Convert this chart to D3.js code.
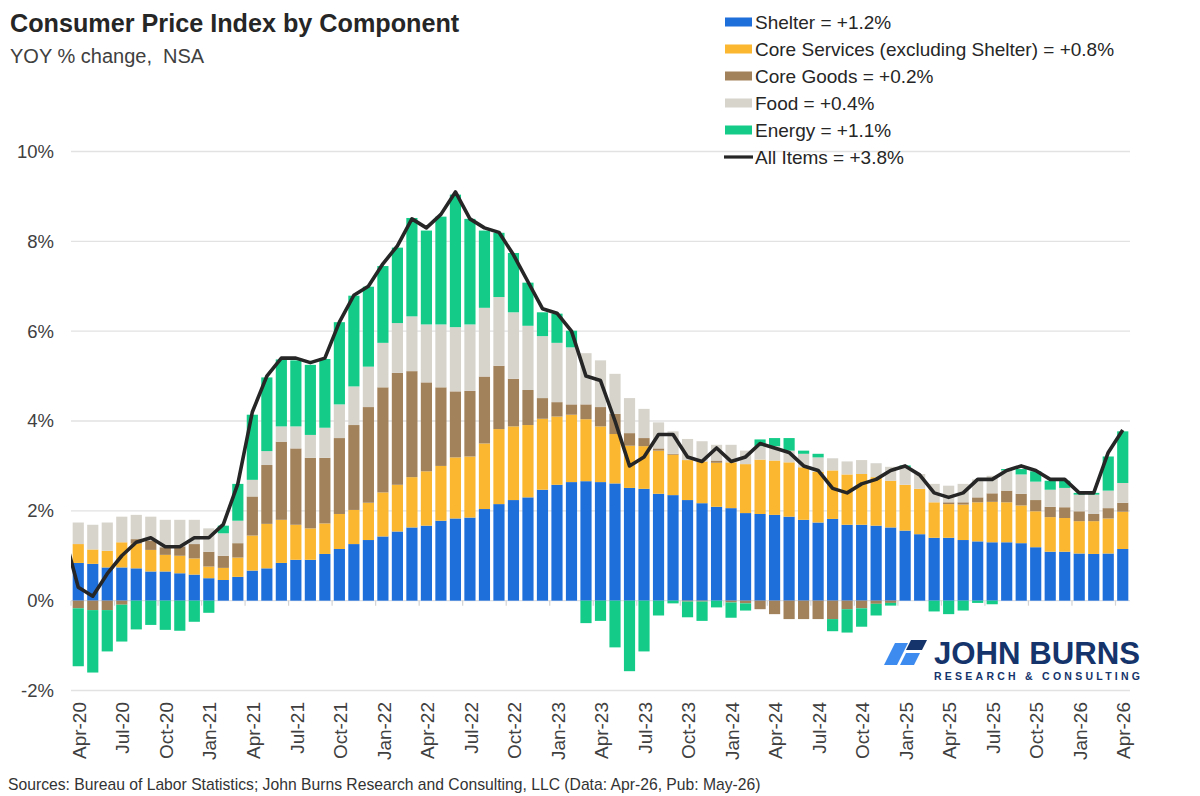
<!DOCTYPE html>
<html>
<head>
<meta charset="utf-8">
<title>Consumer Price Index by Component</title>
<script src="https://cdn.jsdelivr.net/npm/d3@7"></script>
<style>
    html, body { margin: 0; padding: 0; background: #fff; }
    svg text { font-family: "Liberation Sans", Arial, sans-serif; }
</style>
</head>
<body>
<div id="chart"></div>
<script>
    // months Apr-20 .. Apr-26 (73 bars)
    var months = d3.timeMonths(new Date(2020, 3, 1), new Date(2026, 4, 1));
    var fmtMonth = d3.timeFormat("%b-%y");

    // contributions to YOY CPI, percentage points
    var shelter = [0.84,0.82,0.74,0.74,0.72,0.65,0.65,0.61,0.58,0.50,0.46,0.53,
        0.67,0.72,0.84,0.91,0.91,1.04,1.15,1.26,1.35,1.43,1.54,1.63,
        1.67,1.78,1.83,1.85,2.04,2.15,2.24,2.30,2.47,2.58,2.64,2.66,
        2.64,2.61,2.51,2.49,2.38,2.35,2.24,2.17,2.09,2.06,1.95,1.93,
        1.91,1.87,1.80,1.74,1.82,1.69,1.69,1.67,1.63,1.56,1.48,1.40,
        1.40,1.35,1.32,1.30,1.30,1.28,1.19,1.09,1.09,1.05,1.04,1.05,1.15];
    var coreServices = [0.42,0.32,0.37,0.56,0.55,0.48,0.37,0.39,0.36,0.26,0.27,0.43,
        0.78,0.99,0.96,0.78,0.70,0.68,0.78,0.76,0.83,0.98,1.04,1.12,
        1.21,1.22,1.36,1.36,1.46,1.67,1.64,1.61,1.58,1.52,1.50,1.38,
        1.24,1.10,0.94,0.95,0.96,0.90,0.89,0.93,0.98,1.02,1.09,1.21,
        1.21,1.21,1.17,1.13,1.08,1.12,1.13,1.08,1.04,1.02,1.01,0.79,
        0.75,0.79,0.87,0.90,0.89,0.84,0.80,0.77,0.75,0.72,0.73,0.78,0.83];
    var coreGoods = [-0.17,-0.21,-0.21,-0.09,0.10,0.21,0.17,0.21,0.32,0.33,0.27,0.32,
        0.87,1.31,1.74,1.70,1.57,1.46,1.69,1.89,2.13,2.34,2.49,2.36,
        1.98,1.75,1.47,1.46,1.49,1.41,1.06,0.78,0.46,0.32,0.23,0.33,
        0.43,0.45,0.28,0.18,0.05,0.02,-0.02,-0.02,0.05,-0.04,-0.06,-0.19,
        -0.30,-0.41,-0.41,-0.41,-0.41,-0.19,-0.17,-0.07,-0.05,0.00,0.00,0.00,
        0.04,0.05,0.11,0.19,0.26,0.26,0.25,0.23,0.24,0.22,0.16,0.23,0.20];
    var food = [0.48,0.55,0.63,0.57,0.54,0.53,0.61,0.59,0.54,0.52,0.50,0.50,
        0.37,0.31,0.34,0.49,0.51,0.67,0.75,0.86,0.90,0.99,1.11,1.22,
        1.29,1.40,1.43,1.48,1.53,1.53,1.48,1.43,1.38,1.32,1.27,1.14,
        1.04,0.89,0.78,0.65,0.58,0.50,0.47,0.45,0.35,0.39,0.30,0.30,
        0.32,0.26,0.30,0.32,0.27,0.29,0.31,0.31,0.31,0.39,0.33,0.41,
        0.37,0.41,0.40,0.39,0.45,0.43,0.41,0.38,0.43,0.37,0.43,0.39,0.44];
    var energy = [-1.29,-1.39,-0.92,-0.82,-0.64,-0.54,-0.65,-0.67,-0.47,-0.27,0.17,0.82,
        1.45,1.64,1.49,1.47,1.56,1.53,1.83,2.02,1.78,1.71,1.68,2.19,
        2.09,2.40,2.95,2.35,1.72,1.43,1.32,0.96,0.53,0.65,0.37,-0.50,
        -0.45,-1.04,-1.57,-1.13,-0.33,-0.06,-0.35,-0.43,-0.15,-0.34,-0.16,0.15,
        0.18,0.28,0.07,0.08,-0.27,-0.52,-0.41,-0.26,-0.06,0.04,0.00,-0.24,
        -0.30,-0.22,-0.05,-0.08,0.03,0.12,0.23,0.20,0.16,0.04,0.04,0.76,1.15];
    // All Items YOY %, starts one month early (Mar-20) so the line enters from the left edge
    var allItems = [1.5,
        0.3,0.1,0.6,1.0,1.3,1.4,1.2,1.2,1.4,1.4,1.7,2.6,
        4.2,5.0,5.4,5.4,5.3,5.4,6.2,6.8,7.0,7.5,7.9,8.5,
        8.3,8.6,9.1,8.5,8.3,8.2,7.7,7.1,6.5,6.4,6.0,5.0,
        4.9,4.0,3.0,3.2,3.7,3.7,3.2,3.1,3.4,3.1,3.2,3.5,
        3.4,3.3,3.0,2.9,2.5,2.4,2.6,2.7,2.9,3.0,2.8,2.4,
        2.3,2.4,2.7,2.7,2.9,3.0,2.9,2.7,2.7,2.4,2.4,3.3,3.8];

    var yTicks = [-2, 0, 2, 4, 6, 8, 10];
    var legendLabels = ["Shelter = +1.2%", "Core Services (excluding Shelter) = +0.8%",
        "Core Goods = +0.2%", "Food = +0.4%", "Energy = +1.1%"];
    var lineLabel = "All Items = +3.8%";

    var keys = ["shelter", "coreServices", "coreGoods", "food", "energy"];
    var colors = ["#1f6fdb", "#fbb72f", "#a2825a", "#d7d4cc", "#14cc88"];
    var series = [shelter, coreServices, coreGoods, food, energy];

    var width = 1200, height = 796;
    var plotLeft = 71, plotRight = 1130;

    var svg = d3.select("#chart").append("svg")
        .attr("width", width)
        .attr("height", height);

    // index based x scale so the Mar-20 line point lands just off the plot
    var x = d3.scaleLinear()
        .domain([-0.5, months.length - 0.5])
        .range([plotLeft, plotRight]);
    var step = x(1) - x(0);
    var barW = step * 0.77;

    var y = d3.scaleLinear()
        .domain([-2, 10])
        .range([690.5, 151.5]);

    //gridlines
    svg.append("g")
        .selectAll("line")
        .data(yTicks)
        .enter()
        .append("line")
            .attr("x1", plotLeft)
            .attr("x2", plotRight)
            .attr("y1", function(d){ return y(d); })
            .attr("y2", function(d){ return y(d); })
            .attr("stroke", "#e2e2e2")
            .attr("stroke-width", 1.4);

    //y axis labels
    var yAxis = d3.axisLeft(y)
        .tickValues(yTicks)
        .tickSize(0)
        .tickPadding(0)
        .tickFormat(function(d){ return d + "%"; });
    var yGroup = svg.append("g")
        .attr("transform", "translate(54,0)")
        .call(yAxis);
    yGroup.select(".domain").remove();
    yGroup.selectAll("text")
        .attr("fill", "#404040")
        .style("font-size", "18.5px")
        .style("font-family", "'Liberation Sans', Arial, sans-serif");

    // stacked bars, negatives stack down from zero
    var rows = months.map(function(m, i){
        var r = {i: i};
        keys.forEach(function(k, j){ r[k] = series[j][i]; });
        return r;
    });
    var stacked = d3.stack()
        .keys(keys)
        .offset(d3.stackOffsetDiverging)(rows);

    var plot = svg.append("g");
    plot.selectAll("g.layer")
        .data(stacked)
        .enter()
        .append("g")
            .attr("class", "layer")
            .attr("fill", function(d, j){ return colors[j]; })
        .selectAll("rect")
        .data(function(d){ return d; })
        .enter()
        .append("rect")
            .attr("x", function(d){ return x(d.data.i) - barW / 2; })
            .attr("width", barW)
            .attr("y", function(d){ return y(Math.max(d[0], d[1])); })
            .attr("height", function(d){ return Math.abs(y(d[0]) - y(d[1])); });

    //quarter tick marks under the zero line
    var quarterIdx = months.map(function(m, i){ return i; })
        .filter(function(i){ return months[i].getMonth() % 3 === 0; });
    svg.append("g")
        .selectAll("line")
        .data(quarterIdx)
        .enter()
        .append("line")
            .attr("x1", function(i){ return x(i - 0.5); })
            .attr("x2", function(i){ return x(i - 0.5); })
            .attr("y1", y(0))
            .attr("y2", y(0) + 5)
            .attr("stroke", "#d4d4d4")
            .attr("stroke-width", 1.2);

    // all items line
    svg.append("clipPath").attr("id", "plotclip")
        .append("rect")
            .attr("x", plotLeft).attr("y", 0)
            .attr("width", plotRight - plotLeft).attr("height", height);

    var line = d3.line()
        .x(function(d, i){ return x(i - 1); })
        .y(function(d){ return y(d); });

    svg.append("path")
        .datum(allItems)
        .attr("clip-path", "url(#plotclip)")
        .attr("d", line)
        .attr("fill", "none")
        .attr("stroke", "#262626")
        .attr("stroke-width", 3.6)
        .attr("stroke-linejoin", "round");

    //x labels, every 3 months, rotated
    svg.append("g")
        .selectAll("text")
        .data(quarterIdx)
        .enter()
        .append("text")
            .attr("transform", function(i){ return "translate(" + (x(i) + 1) + ",702) rotate(-90)"; })
            .attr("dy", "0.35em")
            .attr("text-anchor", "end")
            .attr("fill", "#404040")
            .style("font-size", "19px")
            .text(function(i){ return fmtMonth(months[i]); });

    //TITLE
    svg.append("text")
        .attr("x", 10).attr("y", 32)
        .attr("fill", "#262626")
        .style("font-size", "25.2px")
        .style("font-weight", "bold")
        .text("Consumer Price Index by Component");
    svg.append("text")
        .attr("x", 10).attr("y", 63)
        .attr("fill", "#404040")
        .style("font-size", "20px")
        .style("white-space", "pre")
        .text("YOY % change,  NSA");

    //LEGEND
    var legend = svg.append("g");
    legendLabels.forEach(function(t, j){
        var cy = 22 + j * 27;
        legend.append("rect")
            .attr("x", 725).attr("y", cy - 4.5)
            .attr("width", 27).attr("height", 9)
            .attr("fill", colors[j]);
        legend.append("text")
            .attr("x", 755).attr("y", cy)
            .attr("dy", "0.35em")
            .attr("fill", "#262626")
            .style("font-size", "19px")
            .text(t);
    });
    legend.append("line")
        .attr("x1", 724).attr("x2", 753)
        .attr("y1", 157).attr("y2", 157)
        .attr("stroke", "#262626")
        .attr("stroke-width", 3.2);
    legend.append("text")
        .attr("x", 755).attr("y", 157)
        .attr("dy", "0.35em")
        .attr("fill", "#262626")
        .style("font-size", "19px")
        .text(lineLabel);

    //logo
    var logo = svg.append("g");
    logo.append("polygon").attr("points", "895,643 908,643 897,665 884,665").attr("fill", "#3d8bef");
    logo.append("polygon").attr("points", "911,640 927,640 922,650 906,650").attr("fill", "#15346b");
    logo.append("polygon").attr("points", "906,653 920,653 914,665 900,665").attr("fill", "#3d8bef");
    logo.append("text")
        .attr("x", 934).attr("y", 664)
        .attr("fill", "#15346b")
        .attr("textLength", 206)
        .attr("lengthAdjust", "spacingAndGlyphs")
        .style("font-size", "32px")
        .style("font-weight", "bold")
        .text("JOHN BURNS");
    logo.append("text")
        .attr("x", 934).attr("y", 680)
        .attr("fill", "#15346b")
        .attr("textLength", 206)
        .style("font-size", "10.5px")
        .style("font-weight", "bold")
        .text("RESEARCH & CONSULTING");

    //source
    svg.append("text")
        .attr("x", 8).attr("y", 790)
        .attr("fill", "#333")
        .style("font-size", "15.7px")
        .text("Sources: Bureau of Labor Statistics; John Burns Research and Consulting, LLC (Data: Apr-26, Pub: May-26)");
</script>
</body>
</html>
